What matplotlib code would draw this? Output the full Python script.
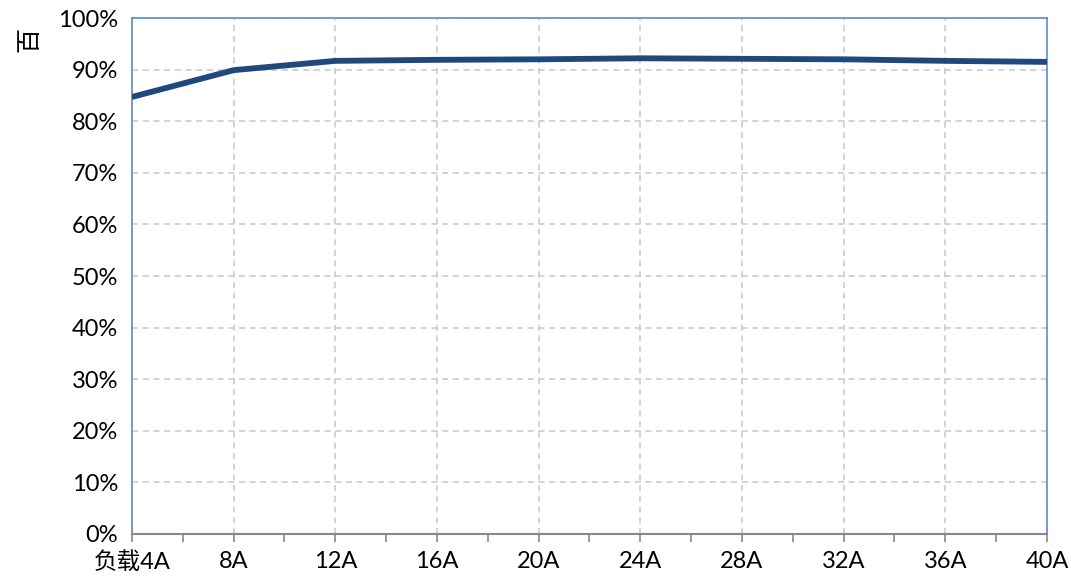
import matplotlib
matplotlib.use("Agg")
import matplotlib.pyplot as plt
from matplotlib.ticker import FuncFormatter, MultipleLocator

plt.rcParams['font.family'] = ['Lato', 'Noto Sans CJK SC', 'DejaVu Sans']

# load current categories and efficiency (%)
loads = ["负载4A", "8A", "12A", "16A", "20A", "24A", "28A", "32A", "36A", "40A"]
efficiency = [84.7, 89.9, 91.7, 91.9, 92.0, 92.2, 92.1, 92.0, 91.7, 91.5]

fig = plt.figure(figsize=(10.71, 5.82), dpi=100)
ax = fig.add_axes([0.1232, 0.0825, 0.8544, 0.8865])

x = list(range(len(loads)))
ax.plot(x, efficiency, color='#1F497D', linewidth=4.2, solid_capstyle='butt', zorder=3)

ax.set_xlim(0, len(loads) - 1)
ax.set_ylim(0, 100)
ax.set_xticks(x)
ax.set_xticklabels(loads, fontsize=17)
ax.xaxis.set_minor_locator(MultipleLocator(0.5))
ax.yaxis.set_major_locator(MultipleLocator(10))
ax.yaxis.set_major_formatter(FuncFormatter(lambda v, p: "%d%%" % v))
ax.tick_params(axis='y', length=0, labelsize=17, pad=10)
ax.tick_params(axis='x', which='both', direction='out', length=6, width=1.2,
               color='#888888', pad=6)

ax.grid(True, which='major', color='#C8C8C8', linestyle=(0, (4, 3)), linewidth=1.1)

for s in ['left', 'right', 'top']:
    ax.spines[s].set_color('#5B8BD0')
    ax.spines[s].set_linewidth(1.2)
ax.spines['bottom'].set_color('#888888')
ax.spines['bottom'].set_linewidth(1.5)
ax.spines['bottom'].set_zorder(4)

fig.text(0.027, 0.932, "百", fontsize=18, rotation=90,
         ha='center', va='center')

fig.savefig("out.png", dpi=100)
